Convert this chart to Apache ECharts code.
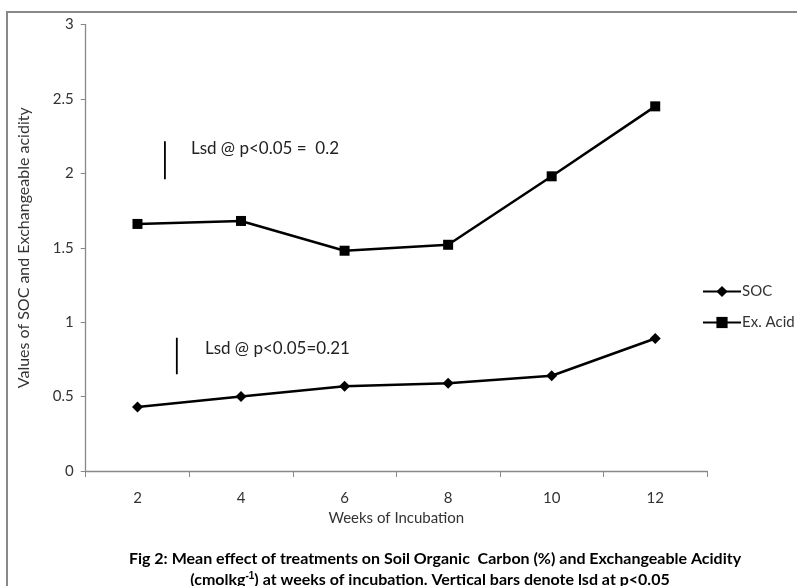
<!DOCTYPE html>
<html><head><meta charset="utf-8">
<script src="https://cdn.jsdelivr.net/npm/echarts@6/dist/echarts.min.js"></script>
<style>html,body{margin:0;padding:0;background:#fff}#c{width:797px;height:586px}</style>
</head><body><div id="c"></div>
<script>
const weeks = ['2', '4', '6', '8', '10', '12'];
const soc = [0.43, 0.50, 0.57, 0.59, 0.64, 0.89];
const exAcid = [1.66, 1.68, 1.48, 1.52, 1.98, 2.45];
const yTicks = [0, 0.5, 1, 1.5, 2, 2.5, 3];
// lsd bars, in weeks (x) and axis units (y)
const lsdExAcid = [[2.53, 1.96], [2.53, 2.215]];
const lsdSoc = [[2.76, 0.65], [2.76, 0.895]];
const lsdTexts = ['Lsd @ p<0.05 =  0.2', 'Lsd @ p<0.05=0.21'];

const chart = echarts.init(document.getElementById('c'));
const F = 'Lato';
chart.setOption({
  animation: false,
  textStyle: { fontFamily: F },
  grid: { left: 85.7, right: 90, top: 24.5, bottom: 115 },
  xAxis: [{
    type: 'category', data: weeks, boundaryGap: true,
    name: 'Weeks of Incubation', nameLocation: 'middle', nameGap: 37,
    nameTextStyle: { fontSize: 15, color: '#333', fontFamily: F },
    axisLine: { lineStyle: { color: '#888', width: 1.3 } },
    axisTick: { show: true, length: 6, lineStyle: { color: '#888' } },
    axisLabel: { margin: 20, fontSize: 15, color: '#333', fontFamily: F },
    splitLine: { show: false }
  }, {
    type: 'value', min: 1, max: 13, show: false
  }],
  yAxis: {
    type: 'value', min: 0, max: 3, interval: 0.5,
    name: 'Values of SOC and Exchangeable acidity', nameLocation: 'middle', nameGap: 54,
    nameTextStyle: { fontSize: 16, color: '#333', fontFamily: F },
    axisLine: { show: true, lineStyle: { color: '#888', width: 1.3 } },
    axisTick: { show: true, length: 5, lineStyle: { color: '#888' } },
    axisLabel: { margin: 12, fontSize: 15, color: '#333', fontFamily: F,
      formatter: v => yTicks.includes(v) ? String(v) : '' },
    splitLine: { show: false }
  },
  legend: {
    orient: 'vertical', left: 697, top: 279, itemGap: 16, itemWidth: 38, itemHeight: 14,
    textStyle: { fontSize: 15, color: '#333', fontFamily: F, padding: [0, 0, 0, -4] },
    data: ['SOC', 'Ex. Acid']
  },
  series: [
    { name: 'SOC', type: 'line', data: soc, symbol: 'diamond', symbolSize: 11,
      lineStyle: { color: '#000', width: 2.5 }, itemStyle: { color: '#000' } },
    { name: 'Ex. Acid', type: 'line', data: exAcid, symbol: 'rect', symbolSize: 10,
      lineStyle: { color: '#000', width: 2.5 }, itemStyle: { color: '#000' } },
    { type: 'line', xAxisIndex: 1, data: lsdExAcid, symbol: 'none',
      lineStyle: { color: '#000', width: 1.8 } },
    { type: 'line', xAxisIndex: 1, data: lsdSoc, symbol: 'none',
      lineStyle: { color: '#000', width: 1.8 } }
  ],
  graphic: [
    { type: 'rect', shape: { x: 7, y: 12, width: 900, height: 700 },
      style: { fill: 'none', stroke: '#888', lineWidth: 2 }, silent: true },
    { type: 'text', left: 191, top: 140, style: { text: lsdTexts[0], fontSize: 17, fill: '#222', fontFamily: F } },
    { type: 'text', left: 205, top: 340, style: { text: lsdTexts[1], fontSize: 17, fill: '#222', fontFamily: F } },
    { type: 'text', x: 435, y: 551, style: {
        text: 'Fig 2: Mean effect of treatments on Soil Organic  Carbon (%) and Exchangeable Acidity',
        fontSize: 16, fontWeight: 'bold', fill: '#000', fontFamily: F, align: 'center' } },
    { type: 'text', x: 430, y: 571, style: {
        text: '(cmolkg{sup|-1}) at weeks of incubation. Vertical bars denote lsd at p<0.05',
        fontSize: 16, fontWeight: 'bold', fill: '#000', fontFamily: F, align: 'center',
        rich: { sup: { fontSize: 10, fontWeight: 'bold', verticalAlign: 'top', padding: [0, 0, 8, 0] } } } }
  ]
});
</script></body></html>
